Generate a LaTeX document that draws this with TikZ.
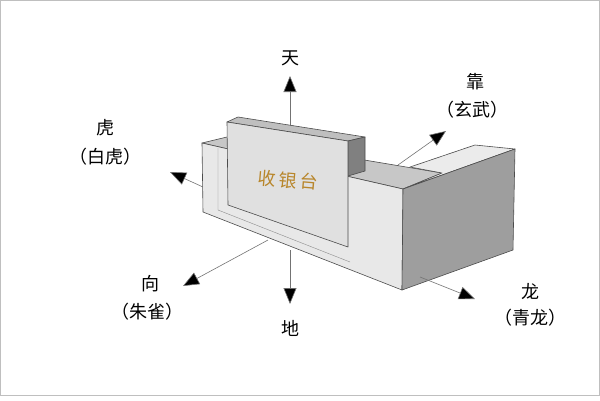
\documentclass[tikz,border=0pt]{standalone}
\usepackage{fontspec}
\usetikzlibrary{arrows.meta}
\newfontfamily\cjk{Noto Sans CJK SC}
\definecolor{gold}{HTML}{B8862B}
\begin{document}
\begin{tikzpicture}[x=1pt,y=-1pt,
  lab/.style={font=\cjk\fontsize{18}{20}\selectfont,inner sep=0pt},
  ax/.style={draw=black!55,line width=0.6pt,-{Triangle[length=16pt,width=13pt,fill=black]}},
  edge/.style={draw=black!70,line width=0.6pt,line join=round}]
\useasboundingbox (0,0) rectangle (600,400);
\draw[black!25] (0.5,0.5) rectangle (599.5,395);
% back axes
\draw[ax] (290,130) -- (290,76);
\draw[ax] (203,187) -- (170,172);
\draw[ax] (398,165) -- (446,131);
% counter
\filldraw[edge,fill=black!22] (202,143) -- (227,137) -- (442,173) -- (403,189) -- cycle;
\filldraw[edge,fill=black!8] (403,189) -- (442,173) -- (410,167) -- (475,145) -- (515,149) -- cycle;
\filldraw[edge,fill=black!9] (202,143) -- (403,189) -- (402,290) -- (203,212) -- cycle;
\filldraw[edge,fill=black!38] (403,189) -- (515,149) -- (513,250) -- (402,290) -- cycle;
\draw[black!45] (218,148) -- (218,210) -- (350,262);
% panel
\filldraw[edge,fill=black!25] (227,122) -- (238,117) -- (365,137) -- (348,141) -- cycle;
\filldraw[edge,fill=black!50] (348,141) -- (365,137) -- (365,171) -- (348,176) -- cycle;
\filldraw[edge,fill=black!12] (227,122) -- (348,141) -- (348,247) -- (228,205) -- cycle;
\node[lab,text=gold,rotate=-5] (ct) at (288,180) {收\,银\,台};
% front axes
\draw[ax] (290,250) -- (290,304);
\draw[ax] (268,240) -- (183,286);
\draw[ax] (420,277) -- (475,299);
% labels
\node[lab] (tian) at (290,58) {天};
\node[lab] (kao) at (475,82) {靠};
\node[lab] (xw) at (472,110) {（玄武）};
\node[lab] (hu) at (105,128) {虎};
\node[lab] (bh) at (105,157) {（白虎）};
\node[lab] (xiang) at (150,284) {向};
\node[lab] (zq) at (147,312) {（朱雀）};
\node[lab] (di) at (290,328) {地};
\node[lab] (long) at (530,292) {龙};
\node[lab] (ql) at (530,318) {（青龙）};
\end{tikzpicture}
\end{document}
